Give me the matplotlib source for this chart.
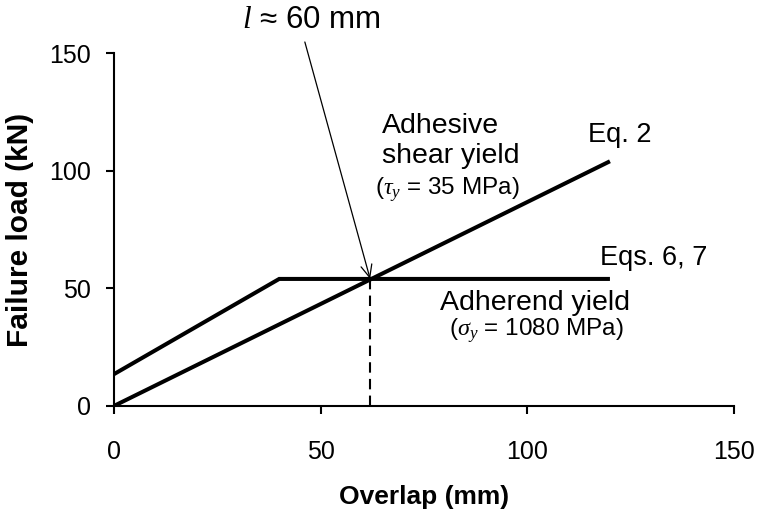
import matplotlib
matplotlib.use("Agg")
import matplotlib.pyplot as plt

plt.rcParams["font.family"] = ["Liberation Sans", "DejaVu Sans"]
plt.rcParams["mathtext.fontset"] = "custom"
plt.rcParams["mathtext.rm"] = "Liberation Serif"
plt.rcParams["mathtext.it"] = "Liberation Serif:italic"

# Failure load vs overlap length
overlap_shear = [0, 120]          # mm
load_shear = [0, 104]             # kN, adhesive shear yield (Eq. 2)
overlap_adherend = [0, 40, 120]   # mm
load_adherend = [13.5, 54, 54]    # kN, adherend yield (Eqs. 6, 7)
crossover_overlap = 62            # mm
crossover_load = 54               # kN

x_ticks = [0, 50, 100, 150]
y_ticks = [0, 50, 100, 150]

fig = plt.figure(figsize=(7.59, 5.13), dpi=100)
ax = fig.add_axes([0.150, 0.2086, 0.817, 0.688])

ax.plot(overlap_shear, load_shear, color="black", lw=2.9, solid_capstyle="butt")
ax.plot(overlap_adherend, load_adherend, color="black", lw=2.9,
        solid_capstyle="butt", solid_joinstyle="miter")
ax.plot([crossover_overlap, crossover_overlap], [0, crossover_load],
        color="black", lw=1.5, dashes=(5, 3))

ax.set_xlim(0, 150)
ax.set_ylim(0, 150)
ax.set_xticks(x_ticks)
ax.set_yticks(y_ticks)
for s in ("top", "right"):
    ax.spines[s].set_visible(False)
for s in ("left", "bottom"):
    ax.spines[s].set_linewidth(1.5)
ax.tick_params(axis="both", direction="out", length=5.5, width=1.5,
               labelsize=18)
ax.tick_params(axis="x", pad=19)
ax.tick_params(axis="y", pad=11)

ax.set_xlabel("Overlap (mm)", fontsize=19, fontweight="bold")
ax.set_ylabel("Failure load (kN)", fontsize=21.5, fontweight="bold")
ax.xaxis.label.set_va("center")
ax.yaxis.label.set_va("center")
ax.xaxis.set_label_coords(0.5, -0.258)
ax.yaxis.set_label_coords(-0.152, 0.5)

# Annotations
ax.text(31.0, 160.6, r"$l$ ≈ 60 mm", fontsize=22.5, ha="left", va="baseline",
        clip_on=False)
ax.annotate("", xy=(crossover_overlap, crossover_load), xytext=(46.2, 154.7),
            annotation_clip=False,
            arrowprops=dict(arrowstyle="->,head_length=0.45,head_width=0.2",
                            lw=0.9, color="black", mutation_scale=20,
                            shrinkA=0, shrinkB=0))

ax.text(64.8, 116.0, "Adhesive", fontsize=20.5, ha="left", va="baseline")
ax.text(64.8, 103.3, "shear yield", fontsize=20.5, ha="left", va="baseline")
ax.text(63.1, 89.7, r"($\tau_y$ = 35 MPa)", fontsize=17.5, ha="left",
        va="baseline")
ax.text(114.7, 112.2, "Eq. 2", fontsize=19.5, ha="left", va="baseline")
ax.text(117.6, 59.9, "Eqs. 6, 7", fontsize=19.5, ha="left", va="baseline",
        clip_on=False)
ax.text(101.9, 40.8, "Adherend yield", fontsize=20.5, ha="center",
        va="baseline")
ax.text(102.1, 29.7, r"($\sigma_y$ = 1080 MPa)", fontsize=17.5, ha="center",
        va="baseline")

fig.savefig("out.png", dpi=100)
